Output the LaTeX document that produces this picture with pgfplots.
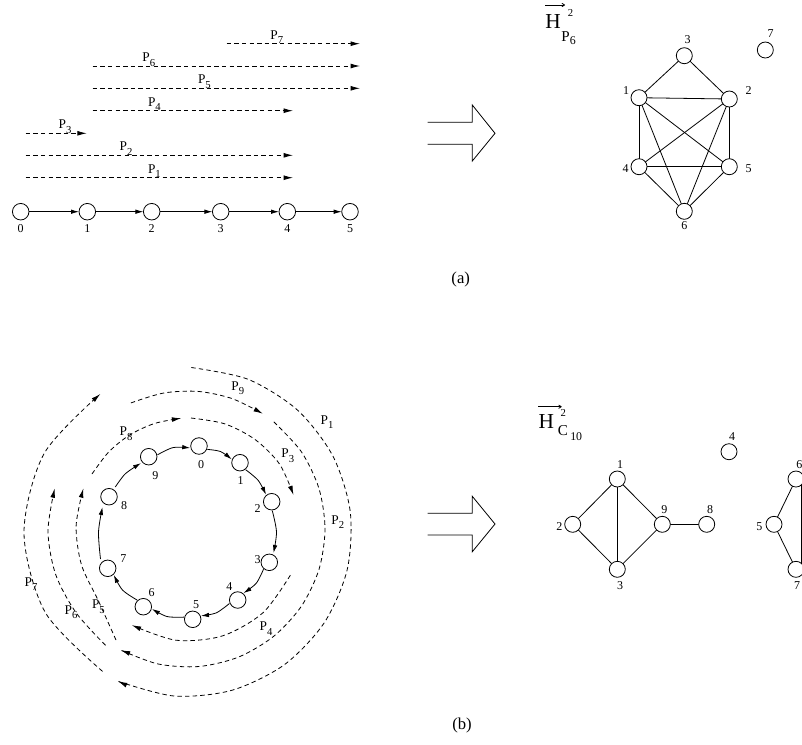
\documentclass[border=0pt]{standalone}
\usepackage{fontspec}
\setmainfont{Liberation Serif}
\usepackage{pgfplots}
\pgfplotsset{compat=1.18}
\usetikzlibrary{arrows.meta}
\newcommand\fs[1]{\fontsize{#1}{#1}\selectfont}
\newcommand\PL[1]{{\fs{10}P\raisebox{-0.8ex}{\fs{8}#1}}}
\tikzset{
 da/.style={black, line width=0.6pt, dash pattern=on 3.3pt off 2.4pt, -{Latex[length=7pt,width=3.6pt]}},
 dl/.style={black, line width=0.6pt, dash pattern=on 3.3pt off 2.4pt},
 sa/.style={black, line width=0.6pt, -{Latex[length=6pt,width=3.4pt]}},
 ed/.style={black, line width=0.6pt},
 tk/.style={black, line width=0.6pt, -{To[length=2.5pt,width=3pt]}},
}
\pgfplotsset{nd/.style={only marks, mark=*, mark size=#1, mark options={fill=white, draw=black, line width=0.6pt}}}
\newcommand\E[2]{\addplot[ed] coordinates {#1 #2};}
\begin{document}
\begin{tikzpicture}
\begin{axis}[name=ax, scale only axis, width=601.5pt, height=558pt,
  xmin=0, xmax=802, ymin=0, ymax=744, y dir=reverse,
  axis line style={draw=none}, xtick=\empty, ytick=\empty, clip=false]
% ---------------- (a) left: path P6 and sub-paths
\addplot[da] coordinates {(226.7,43.7) (360,43.7)};
\addplot[da] coordinates {(92.7,66) (360,66)};
\addplot[da] coordinates {(92.7,88.3) (360,88.3)};
\addplot[da] coordinates {(92.7,110.7) (293,110.7)};
\addplot[da] coordinates {(25.7,133.3) (86.7,133.3)};
\addplot[da] coordinates {(25.7,155.3) (293,155.3)};
\addplot[da] coordinates {(25.7,177.7) (293,177.7)};
\node[anchor=base west] at (axis cs:265.7,39) {\PL{7}};
\node[anchor=base west] at (axis cs:137.7,61.3) {\PL{6}};
\node[anchor=base west] at (axis cs:193.3,83.6) {\PL{5}};
\node[anchor=base west] at (axis cs:143.3,106) {\PL{4}};
\node[anchor=base west] at (axis cs:54,128.6) {\PL{3}};
\node[anchor=base west] at (axis cs:115,150.6) {\PL{2}};
\node[anchor=base west] at (axis cs:143.3,173) {\PL{1}};
\addplot[sa] coordinates {(29,211.7) (79,211.7)};
\addplot[sa] coordinates {(95.6,211.7) (143.4,211.7)};
\addplot[sa] coordinates {(160,211.7) (212.4,211.7)};
\addplot[sa] coordinates {(229,211.7) (279,211.7)};
\addplot[sa] coordinates {(295.6,211.7) (341.7,211.7)};
\addplot[nd=6.2pt] coordinates {(20.7,211.7) (87.3,211.7) (151.7,211.7) (220.7,211.7) (287.3,211.7) (350,211.7)};
\node[font=\fs{9}] at (axis cs:20.7,229) {0};
\node[font=\fs{9}] at (axis cs:87.3,229) {1};
\node[font=\fs{9}] at (axis cs:151.7,229) {2};
\node[font=\fs{9}] at (axis cs:220.7,229) {3};
\node[font=\fs{9}] at (axis cs:287.3,229) {4};
\node[font=\fs{9}] at (axis cs:350,229) {5};
% ---------------- (a) hollow arrow
\addplot[ed] coordinates {(427.7,122.3) (472.3,122.3) (472.3,105) (495,133.3) (472.3,161) (472.3,144.3) (427.7,144.3)};
\node[font=\fs{12.5}] at (axis cs:460.7,279.3) {(a)};
% ---------------- (a) right: graph H
\addplot[tk] coordinates {(545,5) (565,5)};
\node[anchor=base west, inner sep=0pt, font=\fs{16}] at (axis cs:545,28) {H};
\node[font=\fs{8}] at (axis cs:570.5,12.5) {2};
\node[anchor=base west, inner sep=0pt, font=\fs{11.3}] at (axis cs:561,41.7) {P};
\node[anchor=base west, inner sep=0pt, font=\fs{8.9}] at (axis cs:569.5,44.5) {6};
\E{(684.3,55.7)}{(639,97.7)}
\E{(684.3,55.7)}{(729.3,99)}
\E{(639,97.7)}{(729.3,99)}
\E{(639,97.7)}{(639,166.7)}
\E{(639,97.7)}{(729.3,166.7)}
\E{(639,97.7)}{(684.3,211.3)}
\E{(729.3,99)}{(639,166.7)}
\E{(729.3,99)}{(729.3,166.7)}
\E{(729.3,99)}{(684.3,211.3)}
\E{(639,166.7)}{(729.3,166.7)}
\E{(639,166.7)}{(684.3,211.3)}
\E{(729.3,166.7)}{(684.3,211.3)}
\addplot[nd=6pt] coordinates {(639,97.7) (729.3,99) (684.3,55.7) (639,166.7) (729.3,166.7) (684.3,211.3) (765.3,50)};
\node[font=\fs{9}] at (axis cs:687.7,39.3) {3};
\node[font=\fs{9}] at (axis cs:626,90.7) {1};
\node[font=\fs{9}] at (axis cs:748.7,90.7) {2};
\node[font=\fs{9}] at (axis cs:625.7,168.3) {4};
\node[font=\fs{9}] at (axis cs:748.7,168.3) {5};
\node[font=\fs{9}] at (axis cs:684.3,226) {6};
\node[font=\fs{9}] at (axis cs:770.7,33.3) {7};
% ---------------- (b) left: cycle C10 and sub-paths
% inner ring
\addplot[da, smooth] coordinates {(92,474) (108.5,452.2) (129.6,435) (154.4,423.5) (181.2,418.2)};
\addplot[da, smooth] coordinates {(191,418) (224.7,423.8) (255.2,439.6) (279.5,464) (293.5,495)};
\addplot[da, smooth] coordinates {(290.4,575.1) (262.9,612.8) (222.4,635.9) (176,640.2) (131.8,625.1)};
\addplot[da, smooth] coordinates {(116,640) (98.4,600.8) (81.5,564.9) (76.1,526.1) (83.4,488.4)};
% middle ring
\addplot[da, smooth] coordinates {(130.9,402.9) (163.7,393) (198.1,391.4) (231.9,398.5) (262.8,413.7)};
\addplot[dl, smooth] coordinates {(273.8,421.8) (301.4,451.8) (319,488.6) (325,529) (319,569.4) (301.4,606.2) (273.8,636.2) (238.7,657) (199,666.5) (158.3,664) (120.9,650.2)};
\addplot[da] coordinates {(127,652.5) (120.9,650.2)};
\addplot[da, smooth] coordinates {(105.5,645.3) (76,612.6) (55.6,574.3) (48,531.4) (54.7,488.4)};
% outer ring
\addplot[dl, smooth] coordinates {(191.3,367.5) (248.1,379.3) (297.5,410.1) (332.9,456.1) (350.2,511.4) (347.2,569.6) (324.2,622.8) (284.2,664.8) (231.8,690.3) (174.1,696) (118,681.3)};
\addplot[da] coordinates {(124,684) (118,681.3)};
\addplot[da, smooth] coordinates {(102.6,671.4) (45.3,612.5) (24,533.1) (44,453.7) (100.4,393.9)};
\node[anchor=base west] at (axis cs:226.7,390) {\PL{9}};
\node[anchor=base west] at (axis cs:115,435.7) {\PL{8}};
\node[anchor=base west] at (axis cs:276.7,457.3) {\PL{3}};
\node[anchor=base west] at (axis cs:316,424) {\PL{1}};
\node[anchor=base west] at (axis cs:326.7,524) {\PL{2}};
\node[anchor=base west] at (axis cs:255,630.7) {\PL{4}};
\node[anchor=base west] at (axis cs:87.3,608.3) {\PL{5}};
\node[anchor=base west] at (axis cs:60,614) {\PL{6}};
\node[anchor=base west] at (axis cs:20,586) {\PL{7}};
% cycle arcs
\addplot[sa, smooth] coordinates {(207.3,449.4) (220.5,451.5) (231.7,459.3)};
\addplot[sa, smooth] coordinates {(245.7,469.7) (258.2,480.4) (266,494.7)};
\addplot[sa, smooth] coordinates {(272.3,510.7) (276.5,532) (273.5,553)};
\addplot[sa, smooth] coordinates {(263.5,569.2) (256.2,583.3) (243.5,593.1)};
\addplot[sa, smooth] coordinates {(229.4,603.5) (216.2,612.9) (201,615.8)};
\addplot[sa, smooth] coordinates {(184,617.1) (167,616.5) (152,608.9)};
\addplot[sa, smooth] coordinates {(137.2,600.1) (122.5,590) (113.8,574.9)};
\addplot[sa, smooth] coordinates {(100.5,559) (98.5,532) (102.5,507)};
\addplot[sa, smooth] coordinates {(115.3,487) (125.4,473.7) (141,463.1)};
\addplot[sa, smooth] coordinates {(157.5,454.8) (173,447.6) (190.2,447.9)};
\addplot[nd=6.2pt] coordinates {(199,446) (240,462.7) (271.7,501.7) (269.3,562.3) (237.7,600) (192.7,619.3) (143.3,606.7) (107.7,568.3) (109,496.7) (148.7,456.7)};
\node[font=\fs{9}] at (axis cs:201,465) {0};
\node[font=\fs{9}] at (axis cs:240.7,480.7) {1};
\node[font=\fs{9}] at (axis cs:257.7,509) {2};
\node[font=\fs{9}] at (axis cs:257.7,559.3) {3};
\node[font=\fs{9}] at (axis cs:229.3,586.7) {4};
\node[font=\fs{9}] at (axis cs:196,604.3) {5};
\node[font=\fs{9}] at (axis cs:151.7,592.7) {6};
\node[font=\fs{9}] at (axis cs:123.3,559) {7};
\node[font=\fs{9}] at (axis cs:124,505.7) {8};
\node[font=\fs{9}] at (axis cs:155.3,475.7) {9};
% ---------------- (b) hollow arrow
\addplot[ed] coordinates {(427.7,513.3) (472.3,513.3) (472.3,496.3) (495,524) (472.3,551.7) (472.3,535) (427.7,535)};
\node[font=\fs{12.5}] at (axis cs:462,725) {(b)};
% ---------------- (b) right: graph H
\addplot[tk] coordinates {(538.3,406.7) (561.7,406.7)};
\node[anchor=base west, inner sep=0pt, font=\fs{16}] at (axis cs:538.3,428.3) {H};
\node[font=\fs{8}] at (axis cs:563.3,412.7) {2};
\node[anchor=base west, inner sep=0pt, font=\fs{11.3}] at (axis cs:557.7,435) {C};
\node[anchor=base west, inner sep=0pt, font=\fs{8.9}] at (axis cs:570,440) {10};
\E{(617.3,479)}{(572.7,524.3)}
\E{(617.3,479)}{(617.3,569.3)}
\E{(617.3,479)}{(662.3,524.3)}
\E{(572.7,524.3)}{(617.3,569.3)}
\E{(617.3,569.3)}{(662.3,524.3)}
\E{(662.3,524.3)}{(706.7,524.3)}
\E{(774,524.3)}{(796,479)}
\E{(774,524.3)}{(796,569.3)}
\E{(801.6,475)}{(801.6,568)}
\addplot[nd=6pt] coordinates {(617.3,479) (572.7,524.3) (617.3,569.3) (662.3,524.3) (706.7,524.3) (729,451.7) (774,524.3) (796,479) (796,569.3)};
\node[font=\fs{9}] at (axis cs:620,465) {1};
\node[font=\fs{9}] at (axis cs:559.3,526.7) {2};
\node[font=\fs{9}] at (axis cs:620,586) {3};
\node[font=\fs{9}] at (axis cs:664.3,510) {9};
\node[font=\fs{9}] at (axis cs:710,509.3) {8};
\node[font=\fs{9}] at (axis cs:732,436.7) {4};
\node[font=\fs{9}] at (axis cs:759.3,526.7) {5};
\node[font=\fs{9}] at (axis cs:799.3,465) {6};
\node[font=\fs{9}] at (axis cs:797,586) {7};
\end{axis}
\pgfresetboundingbox
\path[use as bounding box] (ax.south west) rectangle (ax.north east);
\end{tikzpicture}
\end{document}
